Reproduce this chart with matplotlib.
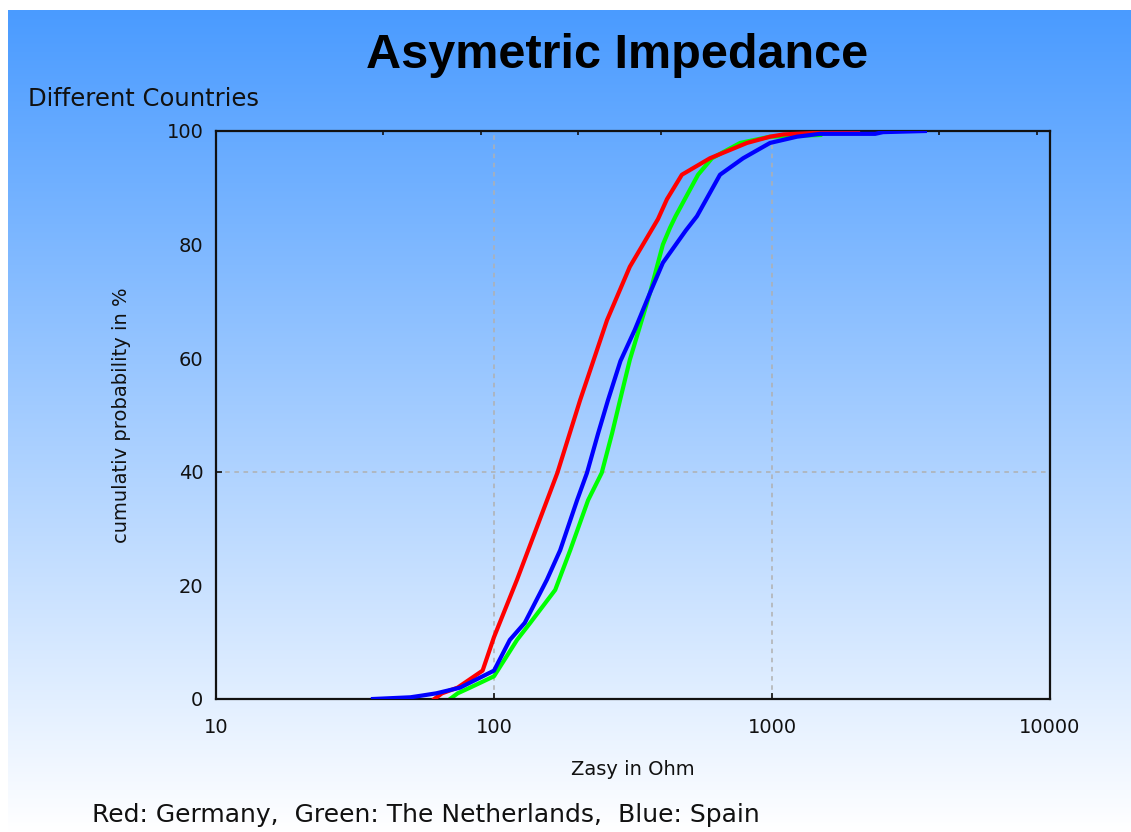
import numpy as np
import matplotlib
matplotlib.use("Agg")
import matplotlib.pyplot as plt
from matplotlib.ticker import FixedLocator, NullFormatter, NullLocator

# ---- data ----
germany_x = [61, 65, 74, 91, 100, 121, 140, 169, 204, 216, 255, 308, 389, 419, 474, 598, 813, 984, 1100, 1500, 1510, 2040]
germany_y = [0, 1, 2, 5, 10.9, 21, 29.2, 39.8, 52.6, 56.2, 66.7, 76.1, 84.5, 88, 92.3, 95.2, 97.9, 99, 99.4, 99.7, 100, 100]

netherlands_x = [69.5, 74, 82, 100, 121, 135, 166, 188, 218, 244, 266, 284, 308, 364, 389, 405, 430, 450, 542, 608, 768, 984, 1500, 1530]
netherlands_y = [0, 1, 2, 4, 10.4, 13.4, 19.2, 26.2, 35, 39.8, 46.8, 52.6, 59.7, 71.5, 76.8, 80, 83, 85, 92.3, 95.2, 97.9, 99, 99.3, 100]

spain_x = [36.7, 50, 55, 62, 75.5, 100, 114, 129, 155, 173, 199, 216, 237, 257, 285, 321, 364, 405, 490, 537, 650, 787, 984, 1230, 1489, 2350, 2507, 3548]
spain_y = [0, 0.3, 0.6, 1, 2, 5, 10.4, 13.4, 21, 26.2, 35, 39.8, 46.8, 52.6, 59.5, 65, 71.5, 76.8, 82.5, 85, 92.3, 95.2, 97.9, 99, 99.5, 99.5, 99.8, 100]

x_ticks = [10, 100, 1000, 10000]
x_tick_labels = ["10", "100", "1000", "10000"]
y_ticks = [0, 20, 40, 60, 80, 100]
y_tick_labels = ["0", "20", "40", "60", "80", "100"]

title = "Asymetric Impedance"
subtitle = "Different Countries"
x_label = "Zasy in Ohm"
y_label = "cumulativ probability in %"
footer = "Red: Germany,  Green: The Netherlands,  Blue: Spain"

plt.rcParams['font.family'] = ['DejaVu Sans']

W, H = 1131, 832
fig = plt.figure(figsize=(W / 100, H / 100), dpi=100)
fig.patch.set_facecolor("white")

# gradient background
bg = fig.add_axes([8 / W, 0, 1 - 8 / W, 1 - 10 / H], zorder=0)
n = 400
t = np.linspace(0, 1, n)[:, None]
top = np.array([74, 155, 255]) / 255.0
bot = np.array([255, 255, 255]) / 255.0
grad = top[None, None, :] * (1 - t[:, :, None]) + bot[None, None, :] * t[:, :, None]
grad = np.repeat(grad, 2, axis=1)
bg.imshow(grad, aspect="auto", extent=[0, 1, 0, 1], origin="upper")
bg.set_axis_off()

ax = fig.add_axes([216 / W, 1 - 699 / H, (1050 - 216) / W, (699 - 131) / H], zorder=1)
ax.patch.set_alpha(0)

ax.plot(netherlands_x, netherlands_y, color="#00ff00", lw=3.0, zorder=2)
ax.plot(germany_x, germany_y, color="#ff0000", lw=3.0, zorder=3)
ax.plot(spain_x, spain_y, color="#0000ff", lw=3.0, zorder=4)

ax.set_xscale("log")
ax.set_xlim(10, 10000)
ax.set_ylim(0, 100)

ax.xaxis.remove_overlapping_locs = False
ax.yaxis.remove_overlapping_locs = False
ax.xaxis.set_major_locator(FixedLocator(x_ticks))
ax.set_xticklabels(x_tick_labels)
ax.yaxis.set_major_locator(FixedLocator(y_ticks))
ax.set_yticklabels(y_tick_labels)
ax.xaxis.set_minor_locator(FixedLocator([100, 1000]))
ax.yaxis.set_minor_locator(FixedLocator([40]))
ax.xaxis.set_minor_formatter(NullFormatter())
ax.yaxis.set_minor_formatter(NullFormatter())
ax.tick_params(which="major", length=0, labelsize=14, colors="#111111")
ax.tick_params(axis="x", which="major", pad=14)
ax.tick_params(axis="y", which="major", pad=9)
ax.tick_params(which="minor", direction="in", length=4, width=1.2, color="#111111")
ax.grid(which="minor", visible=True, color="#b0b0b0", linestyle=(0, (3, 3)), linewidth=1.1)
ax.set_axisbelow(True)

for s in ax.spines.values():
    s.set_linewidth(1.6)
    s.set_color("#111111")

sec = ax.secondary_xaxis("top")
sec.xaxis.set_major_locator(FixedLocator([40, 90, 200, 400, 4000, 9000]))
sec.xaxis.set_minor_locator(NullLocator())
sec.xaxis.set_major_formatter(NullFormatter())
sec.tick_params(which="both", direction="in", length=3, width=1.2, color="#111111")
sec.spines["top"].set_visible(False)

ax.set_xlabel(x_label, fontsize=14, color="#111111", labelpad=16)
ax.set_ylabel(y_label, fontsize=14, color="#111111", labelpad=26)

fig.text(617 / W, 1 - 55 / H, title, fontsize=35, fontweight="bold", ha="center", va="center",
         color="black", family="Liberation Sans")
fig.text(28 / W, 1 - 99 / H, subtitle, fontsize=17.5, ha="left", va="center", color="#111111")
fig.text(92 / W, 1 - 815 / H, footer, fontsize=18, ha="left", va="center", color="#111111")

fig.savefig("out.png", dpi=100)
